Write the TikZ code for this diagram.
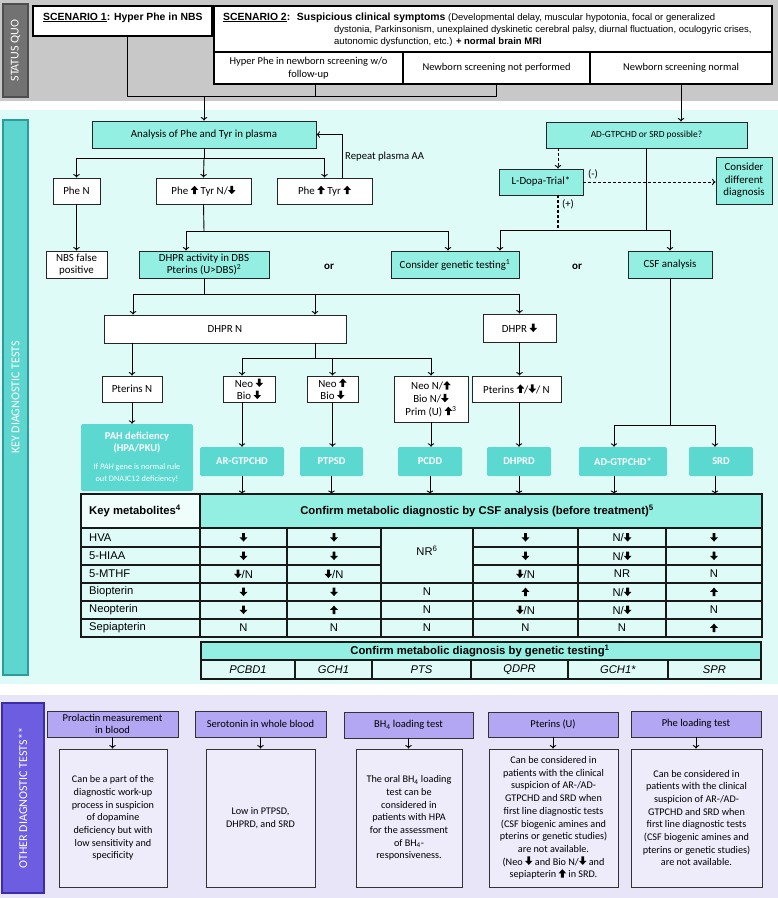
\documentclass[tikz,border=0pt]{standalone}
\usepackage{fontspec}
\setmainfont{Carlito}
\newfontfamily\arial{Liberation Sans}
\usetikzlibrary{arrows.meta,calc}
\definecolor{graybg}{HTML}{C8C8C8}
\definecolor{sqbar}{HTML}{727272}
\definecolor{sqbord}{HTML}{4E4E4E}
\definecolor{cyanbg}{HTML}{DFFBF7}
\definecolor{aqua}{HTML}{94EFE3}
\definecolor{teal2}{HTML}{5BD9D0}
\definecolor{tealbar}{HTML}{5DD6CF}
\definecolor{tealbord}{HTML}{2C9C9A}
\definecolor{lavbg}{HTML}{E9E5F8}
\definecolor{purhead}{HTML}{B3A7F3}
\definecolor{purbar}{HTML}{6D5DE0}
\definecolor{purbord}{HTML}{3C2CA8}
\definecolor{lavbox}{HTML}{EEEBFB}
\newcommand\darr{\tikz[x=1pt,y=1pt,baseline=-0.3pt,sharp corners]\fill[black](-1.4,8.4)--(1.4,8.4)--(1.4,4.1)--(3.8,4.1)--(0,0)--(-3.8,4.1)--(-1.4,4.1)--cycle;}
\newcommand\uarr{\tikz[x=1pt,y=1pt,baseline=-0.3pt,sharp corners]\fill[black](-1.4,0)--(1.4,0)--(1.4,4.3)--(3.8,4.3)--(0,8.4)--(-3.8,4.3)--(-1.4,4.3)--cycle;}
\newcommand\bx[7]{\node[#6, minimum width={(#4)-(#2)}, minimum height={(#5)-(#3)}] (#1) at ({((#2)+(#4))/2},{((#3)+(#5))/2}) {#7};}
\newcommand\sbf[1]{{\fontsize{10.4}{12}\selectfont\bfseries #1}}
\begin{document}
\begin{tikzpicture}[x=1pt,y=-1pt,
 base/.style={inner sep=1pt,align=center,font=\fontsize{10.9}{13}\selectfont},
 wbox/.style={base,draw=black!85,line width=0.9pt,fill=white},
 abox/.style={base,draw=black!85,line width=0.9pt,fill=aqua},
 dbox/.style={base,fill=teal2,text=white,font=\fontsize{10.5}{12.5}\selectfont\bfseries,rounded corners=1.5pt},
 sbox/.style={draw=black,line width=1.2pt,fill=white,inner sep=1pt,align=center,font=\fontsize{10.5}{13}\selectfont},
 stext/.style={inner sep=0pt,anchor=west,font=\arial\fontsize{9.5}{11}\selectfont},
 conn/.style={line width=0.9pt,draw=black},
 arr/.style={conn,-{To[length=3.5pt,width=6.5pt]}},
 dsh/.style={conn,dash pattern=on 3pt off 2pt},
 dsharr/.style={dsh,-{To[length=3.5pt,width=6.5pt]}},
 tline/.style={line width=1.1pt,draw=black!90},
 tcell/.style={inner sep=0pt,font=\arial\fontsize{11.2}{12}\selectfont},
 tlab/.style={tcell,anchor=west},
 tbold/.style={inner sep=0pt,font=\arial\fontsize{11.3}{13}\selectfont\bfseries},
 phead/.style={base,draw=black!80,line width=0.9pt,fill=purhead,font=\fontsize{10.5}{12.5}\selectfont},
 pdet/.style={draw=black!80,line width=0.9pt,fill=lavbox,inner sep=1pt,align=center,font=\fontsize{10.2}{12.7}\selectfont},
 bartext/.style={rotate=90,text=white,inner sep=0pt,font=\fontsize{12}{14}\selectfont},
 plain/.style={inner sep=0pt,font=\fontsize{10.7}{12.5}\selectfont}
]
\useasboundingbox (0,0) rectangle (778,898);
\fill[graybg] (0,0) rectangle (778,101);
\fill[cyanbg] (0,110) rectangle (778,684);
\fill[lavbg] (0,695) rectangle (778,898);

% side bars
\bx{sq}{3}{4}{28}{97}{fill=sqbar,draw=sqbord,line width=1.5pt}{}
\node[bartext] (sqt) at (sq) {STATUS QUO};
\bx{kd}{3}{120}{28}{675}{fill=tealbar,draw=tealbord,line width=2pt}{}
\node[bartext] (kdt) at (kd) {KEY DIAGNOSTIC TESTS};
\bx{od}{2}{703}{44}{893}{fill=purbar,draw=purbord,line width=2pt}{}
\node[bartext] (odt) at (od) {OTHER DIAGNOSTIC TESTS**};

% scenarios
\bx{s1}{33}{6}{212}{36}{sbox}{}
\node[stext] (s1t) at (43,17.5) {\sbf{\underline{SCENARIO 1}: Hyper Phe in NBS}};
\bx{s2}{214}{6}{772}{52}{sbox}{}
\node[stext] (s2t1) at (223,17.5) {\sbf{\underline{SCENARIO 2}:~ Suspicious clinical symptoms} (Developmental delay, muscular hypotonia, focal or generalized};
\node[stext] (s2t2) at (334,30) {dystonia, Parkinsonism, unexplained dyskinetic cerebral palsy, diurnal fluctuation, oculogyric crises,};
\node[stext] (s2t3) at (334,42.5) {autonomic dysfunction, etc.) \textbf{+ normal brain MRI}};
\bx{s2a}{214}{52}{403}{84}{sbox}{Hyper Phe in newborn screening w/o\\follow-up}
\bx{s2b}{403}{52}{590}{84}{sbox}{Newborn screening not performed}
\bx{s2c}{590}{52}{772}{84}{sbox}{Newborn screening normal}

% flow boxes
\bx{ana}{92}{121}{316}{148}{abox}{Analysis of Phe and Tyr in plasma}
\bx{adq}{546}{122}{747}{148}{abox,font=\fontsize{9.4}{11}\selectfont}{AD-GTPCHD or SRD possible?}
\bx{pheN}{53}{178}{100}{204}{wbox}{Phe N}
\bx{phe1}{156}{178}{251}{204}{wbox}{Phe \uarr\ Tyr N/\darr}
\bx{phe2}{277}{178}{372}{204}{wbox}{Phe \uarr\ Tyr \uarr}
\bx{ldopa}{499}{169}{583}{195}{abox}{L-Dopa-Trial*}
\bx{cdd}{716}{157}{772}{204}{abox,font=\fontsize{10.9}{12.6}\selectfont}{Consider\\different\\diagnosis}
\bx{nbsfp}{46}{251}{107}{278}{wbox,font=\fontsize{10.9}{12.2}\selectfont}{NBS false\\positive}
\bx{dhpra}{139}{251}{269}{278}{abox,font=\fontsize{10.9}{12.2}\selectfont}{DHPR activity in DBS\\Pterins (U>DBS)\textsuperscript{2}}
\bx{cgt}{391}{251}{519}{278}{abox}{Consider genetic testing\textsuperscript{1}}
\bx{csf}{628}{251}{712}{278}{abox}{CSF analysis}
\node[plain,font=\fontsize{11}{13}\selectfont\bfseries] (or1) at (329,267) {or};
\node[plain,font=\fontsize{11}{13}\selectfont\bfseries] (or2) at (577,267) {or};
\node[plain,anchor=west] (rep) at (345,157) {Repeat plasma AA};
\node[plain] (minus) at (593,174) {(-)};
\node[plain] (plus) at (568,204) {(+)};
\bx{dhprN}{104}{315}{346}{343}{wbox}{DHPR N}
\bx{dhprD}{483}{314}{556}{342}{wbox}{DHPR \darr}
\bx{ptN}{102}{376}{162}{402}{wbox}{Pterins N}
\bx{nb1}{223}{376}{275}{402}{wbox,font=\fontsize{10.9}{12.2}\selectfont}{Neo \darr\\Bio \darr}
\bx{nb2}{307}{376}{358}{402}{wbox,font=\fontsize{10.9}{12.2}\selectfont}{Neo \uarr\\Bio \darr}
\bx{nb3}{394}{376}{468}{422}{wbox,font=\fontsize{10.9}{12.8}\selectfont}{Neo N/\uarr\\Bio N/\darr\\Prim (U) \uarr\textsuperscript{3}}
\bx{ptD}{472}{376}{561}{402}{wbox}{Pterins \uarr/\darr/ N}

% diagnoses
\bx{pah}{81}{424}{193}{491}{dbox}{PAH deficiency\\(HPA/PKU)\\[5pt]\fontsize{8.3}{10}\selectfont\mdseries If \textit{PAH} gene is normal rule\\\fontsize{8.3}{10}\selectfont\mdseries out DNAJC12 deficiency!}
\bx{arg}{200}{447}{284}{476}{dbox}{AR-GTPCHD}
\bx{ptps}{300}{447}{363}{476}{dbox}{PTPSD}
\bx{pcdd}{398}{447}{462}{476}{dbox}{PCDD}
\bx{dhprd}{487}{447}{551}{476}{dbox}{DHPRD}
\bx{adg}{579}{447}{667}{476}{dbox}{AD-GTPCHD*}
\bx{srd}{689}{447}{753}{476}{dbox}{SRD}

% connectors top
\draw[conn] ($(s1.south)+(4.5,0)$) |- ($(s2b.south)+(0,12)$) -- (s2b.south);
\draw[conn] ($(s2a.south)+(6.5,0)$) -- ++(0,12);
\coordinate (j1) at (204,96);
\draw[arr] (j1) -- (ana.north);
\draw[arr] (s2c.south) -- (s2c.south |- adq.north);

% left branch
\coordinate (b1) at (204,158);
\draw[conn] (ana.south) -- (b1);
\draw[arr] (b1) -| (pheN.north);
\draw[arr] (b1) -| (phe2.north);
\draw[arr] (b1) -- (phe1.north);
\draw[arr] ($(phe2.north)+(17.5,0)$) |- (ana.east);
\draw[arr] (pheN.south) -- (nbsfp.north);
\coordinate (b2) at (204,231);
\draw[conn] (phe1.south) -- (b2);
\draw[arr] (b2) -| ($(dhpra.north)+(-18,0)$);
\draw[arr] (b2) -| ($(cgt.north)+(-7,0)$);

% right branch
\coordinate (d1) at (558,0);
\draw[dsharr] (adq.south -| d1) -- (ldopa.north -| d1);
\draw[dsharr] (ldopa.east) -- (ldopa.east -| cdd.west);
\coordinate (b3) at (646.5,230);
\draw[dsh,line width=1.3pt] (ldopa.south -| d1) -- (b3 -| d1);
\draw[conn] (adq.south) -- (b3);
\draw[arr] (b3) -| ($(cgt.north)+(45,0)$);
\draw[arr] (b3) -| (csf.north);

% DHPR activity split
\coordinate (b4) at (204,294);
\draw[conn] (dhpra.south) -- (b4);
\draw[arr] (b4) -| ($(dhprN.north)+(-92,0)$);
\draw[arr] (b4) -| ($(dhprN.north)+(90,0)$);
\draw[arr] (b4) -| (dhprD.north);
\draw[arr] (ptN.north |- dhprN.south) -- (ptN.north);
\coordinate (b5) at (315,358);
\draw[conn] ($(dhprN.south)+(90,0)$) -- (b5);
\draw[arr] (b5) -| (nb1.north -| arg.north);
\draw[arr] (b5) -| (nb2.north);
\draw[arr] (b5) -| (nb3.north);
\draw[arr] (dhprD.south) -- (dhprD.south |- ptD.north);

% to diagnoses
\draw[arr] (ptN.south) -- (ptN.south |- pah.north);
\draw[arr] (nb1.south -| arg.north) -- (arg.north);
\draw[arr] (nb2.south) -- (nb2.south |- ptps.north);
\draw[arr] (nb3.south) -- (nb3.south |- pcdd.north);
\draw[arr] (dhprd.north |- ptD.south) -- (dhprd.north);
\coordinate (b6) at (670,425);
\coordinate (xa) at (614,0);
\coordinate (xs) at (715,0);
\draw[conn] (csf.south) -- (b6);
\draw[arr] (b6) -| (adg.north -| xa);
\draw[arr] (b6) -| (srd.north -| xs);

% table
\coordinate (tt) at (0,494);
\draw[arr] (arg.south) -- (arg.south |- tt);
\draw[arr] (ptps.south) -- (ptps.south |- tt);
\draw[arr] (pcdd.south) -- (pcdd.south |- tt);
\draw[arr] (dhprd.south) -- (dhprd.south |- tt);
\draw[arr] (adg.south -| xa) -- (tt -| xa);
\draw[arr] (srd.south -| xs) -- (tt -| xs);

\fill[cyanbg] (81,494) rectangle (762,637);
\fill[cyanbg!50!white] (81,494) rectangle (200,528);
\fill[aqua] (200,494) rectangle (762,528);
\draw[tline] (81,494) rectangle (762,637);
\draw[tline] (81,528) -- (762,528);
\foreach \y in {547,565} {\draw[tline] (81,\y) -- (381,\y); \draw[tline] (473,\y) -- (762,\y);}
\foreach \y in {583,601,619} \draw[tline] (81,\y) -- (762,\y);
\draw[tline] (200,494) -- (200,637);
\foreach \x in {287,381,473,578,666} \draw[tline] (\x,528) -- (\x,637);
\node[tbold,anchor=west] (km) at (89,510.5) {Key metabolites\textsuperscript{4}};
\node[tbold] (cm) at (477,510.5) {Confirm metabolic diagnostic by CSF analysis (before treatment)\textsuperscript{5}};
\node[tlab] (l1) at (89,537.5) {HVA};
\node[tlab] (l2) at (89,556) {5-HIAA};
\node[tlab] (l3) at (89,574) {5-MTHF};
\node[tlab] (l4) at (89,592) {Biopterin};
\node[tlab] (l5) at (89,610) {Neopterin};
\node[tlab] (l6) at (89,628) {Sepiapterin};
% col 1
\node[tcell] (v11) at (243.5,537.5) {\darr};
\node[tcell] (v21) at (243.5,556) {\darr};
\node[tcell] (v31) at (243.5,574) {\darr/N};
\node[tcell] (v41) at (243.5,592) {\darr};
\node[tcell] (v51) at (243.5,610) {\darr};
\node[tcell] (v61) at (243.5,628) {N};
% col 2
\node[tcell] (v12) at (334,537.5) {\darr};
\node[tcell] (v22) at (334,556) {\darr};
\node[tcell] (v32) at (334,574) {\darr/N};
\node[tcell] (v42) at (334,592) {\darr};
\node[tcell] (v52) at (334,610) {\uarr};
\node[tcell] (v62) at (334,628) {N};
% col 3
\node[tcell] (v13) at (427,551) {NR\textsuperscript{6}};
\node[tcell] (v43) at (427,592) {N};
\node[tcell] (v53) at (427,610) {N};
\node[tcell] (v63) at (427,628) {N};
% col 4
\node[tcell] (v14) at (525.5,537.5) {\darr};
\node[tcell] (v24) at (525.5,556) {\darr};
\node[tcell] (v34) at (525.5,574) {\darr/N};
\node[tcell] (v44) at (525.5,592) {\uarr};
\node[tcell] (v54) at (525.5,610) {\darr/N};
\node[tcell] (v64) at (525.5,628) {N};
% col 5
\node[tcell] (v15) at (622,537.5) {N/\darr};
\node[tcell] (v25) at (622,556) {N/\darr};
\node[tcell] (v35) at (622,574) {NR};
\node[tcell] (v45) at (622,592) {N/\darr};
\node[tcell] (v55) at (622,610) {N/\darr};
\node[tcell] (v65) at (622,628) {N};
% col 6
\node[tcell] (v16) at (714,537.5) {\darr};
\node[tcell] (v26) at (714,556) {\darr};
\node[tcell] (v36) at (714,574) {N};
\node[tcell] (v46) at (714,592) {\uarr};
\node[tcell] (v56) at (714,610) {N};
\node[tcell] (v66) at (714,628) {\uarr};

% genetic table
\fill[aqua] (201,642) rectangle (761,660);
\fill[cyanbg] (201,660) rectangle (761,679);
\draw[tline] (201,642) rectangle (761,679);
\draw[tline] (201,660) -- (761,660);
\foreach \x in {295,372,471,568,668} \draw[tline] (\x,660) -- (\x,679);
\node[tbold] (gh) at (480,651) {Confirm metabolic diagnosis by genetic testing\textsuperscript{1}};
\node[tcell] (g1) at (248,669.5) {\textit{PCBD1}};
\node[tcell] (g2) at (333.5,669.5) {\textit{GCH1}};
\node[tcell] (g3) at (421.5,669.5) {\textit{PTS}};
\node[tcell] (g4) at (519.5,669.5) {\textit{QDPR}};
\node[tcell] (g5) at (618,669.5) {\textit{GCH1*}};
\node[tcell] (g6) at (714.5,669.5) {\textit{SPR}};

% other diagnostic tests
\bx{h1}{47}{711}{178}{737}{phead,font=\fontsize{10.5}{11.8}\selectfont}{Prolactin measurement\\in blood}
\bx{h2}{195}{711}{326}{737}{phead}{Serotonin in whole blood}
\bx{h3}{344}{712}{473}{738}{phead}{BH\textsubscript{4} loading test}
\bx{h4}{488}{712}{618}{737}{phead}{Pterins (U)}
\bx{h5}{631}{711}{761}{737}{phead}{Phe loading test}
\bx{t1}{59}{749}{167}{887}{pdet}{Can be a part of the\\diagnostic work-up\\process in suspicion\\of dopamine\\deficiency but with\\low sensitivity and\\specificity}
\bx{t2}{206}{749}{315}{887}{pdet}{Low in PTPSD,\\DHPRD, and SRD}
\bx{t3}{356}{749}{462}{887}{pdet}{The oral BH\textsubscript{4} loading\\test can be\\considered in\\patients with HPA\\for the assessment\\of BH\textsubscript{4}-\\responsiveness.}
\bx{t4}{489}{749}{618}{887}{pdet}{Can be considered in\\patients with the clinical\\suspicion of AR-/AD-\\GTPCHD and SRD when\\first line diagnostic tests\\(CSF biogenic amines and\\pterins or genetic studies)\\are not available.\\(Neo \darr\ and Bio N/\darr\ and\\sepiapterin \uarr\ in SRD.}
\bx{t5}{631}{749}{762}{887}{pdet}{Can be considered in\\patients with the clinical\\suspicion of AR-/AD-\\GTPCHD and SRD when\\first line diagnostic tests\\(CSF biogenic amines and\\pterins or genetic studies)\\are not available.}
\foreach \i in {1,...,5} \draw[arr] (h\i.south) -- (h\i.south |- t\i.north);
\end{tikzpicture}
\end{document}
